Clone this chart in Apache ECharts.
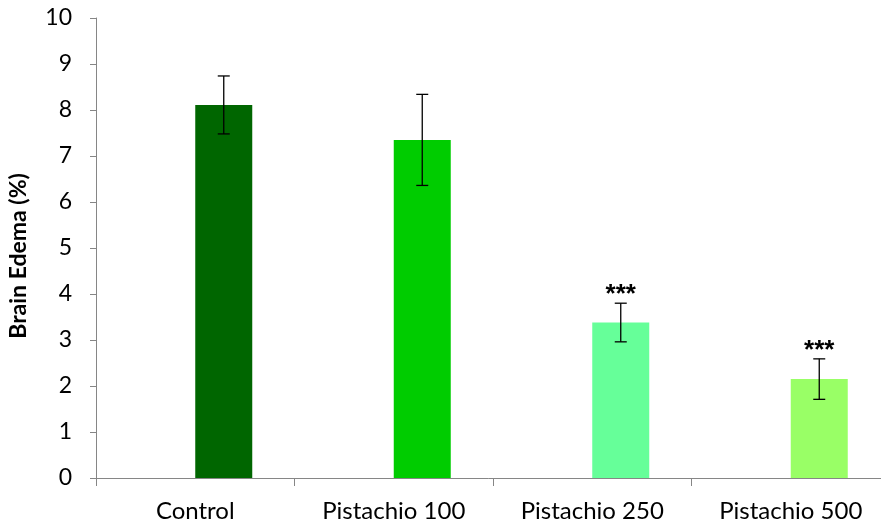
<!DOCTYPE html>
<html>
<head>
<meta charset="utf-8">
<script src="https://cdn.jsdelivr.net/npm/echarts@6/dist/echarts.min.js"></script>
<style>
html,body{margin:0;padding:0;background:#fff;overflow:hidden;}
#chart{width:881px;height:528px;}
</style>
</head>
<body>
<div id="chart"></div>
<script>
const categories = ['Control', 'Pistachio 100', 'Pistachio 250', 'Pistachio 500'];
const meanValues = [8.11, 7.35, 3.38, 2.15];
const errorValues = [0.63, 0.99, 0.42, 0.44];
const significance = ['', '', '***', '***'];
const barColors = ['#006600', '#00CC00', '#66FF99', '#99FF66'];
const yTicks = [0, 1, 2, 3, 4, 5, 6, 7, 8, 9, 10];

const BAR_W = 57;
const FONT = 'Lato, "Liberation Sans", sans-serif';

const chart = echarts.init(document.getElementById('chart'), null, {renderer: 'canvas'});

const errData = categories.map((c, i) => [i, meanValues[i], errorValues[i], significance[i]]);

chart.setOption({
  animation: false,
  backgroundColor: '#ffffff',
  grid: {left: 96, top: 18, width: 794, height: 460, containLabel: false, outerBoundsMode: 'none'},
  xAxis: {
    type: 'category',
    data: categories,
    boundaryGap: true,
    axisLine: {lineStyle: {color: '#868686', width: 1}},
    axisTick: {show: true, length: 8, lineStyle: {color: '#868686'}},
    axisLabel: {color: '#000', fontSize: 24, fontFamily: FONT, margin: 21},
    splitLine: {show: false}
  },
  yAxis: {
    type: 'value',
    min: yTicks[0],
    max: yTicks[yTicks.length - 1],
    interval: 1,
    name: 'Brain Edema (%)',
    nameLocation: 'middle',
    nameGap: 66,
    nameRotate: 90,
    nameTextStyle: {color: '#000', fontSize: 23, fontWeight: 'bold', fontFamily: FONT, padding: [0, 16, 0, 0]},
    axisLine: {show: true, lineStyle: {color: '#868686', width: 1}},
    axisTick: {show: true, length: 6, lineStyle: {color: '#868686'}},
    axisLabel: {color: '#000', fontSize: 23, fontFamily: FONT, margin: 24},
    splitLine: {show: false}
  },
  series: [
    {
      type: 'bar',
      data: categories.map(() => '-'),
      barWidth: BAR_W,
      barGap: '0%'
    },
    {
      type: 'bar',
      data: meanValues.map((v, i) => ({value: v, itemStyle: {color: barColors[i]}})),
      barWidth: BAR_W,
      barGap: '0%'
    },
    {
      type: 'custom',
      data: errData,
      encode: {x: 0, y: 1},
      z: 10,
      renderItem: function (params, api) {
        const idx = api.value(0);
        const mean = api.value(1);
        const err = api.value(2);
        const sig = errData[params.dataIndex][3];
        const top = api.coord([idx, mean + err]);
        const bot = api.coord([idx, mean - err]);
        const x = top[0] + BAR_W / 2;
        const cap = 6;
        const style = {stroke: '#000', lineWidth: 1.3};
        const children = [
          {type: 'line', shape: {x1: x, y1: top[1], x2: x, y2: bot[1]}, style: style},
          {type: 'line', shape: {x1: x - cap, y1: top[1], x2: x + cap, y2: top[1]}, style: style},
          {type: 'line', shape: {x1: x - cap, y1: bot[1], x2: x + cap, y2: bot[1]}, style: style}
        ];
        if (sig) {
          children.push({
            type: 'text',
            style: {
              text: sig, x: x, y: top[1] - 8,
              textAlign: 'center', textVerticalAlign: 'middle',
              fill: '#000', fontSize: 26, fontWeight: 'bold', fontFamily: '"Liberation Sans", sans-serif'
            }
          });
        }
        return {type: 'group', children: children};
      }
    }
  ]
});
</script>
</body>
</html>
